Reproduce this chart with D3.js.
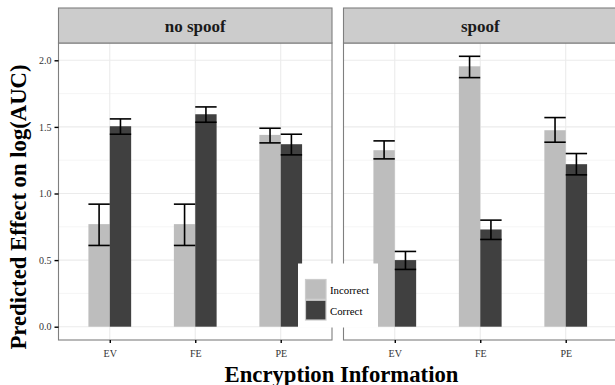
<!DOCTYPE html>
<html>
<head>
<meta charset="utf-8">
<script src="https://cdn.jsdelivr.net/npm/d3@7"></script>
<style>
  html, body { margin: 0; padding: 0; background: #fff; }
  svg { display: block; }
</style>
</head>
<body>
<svg id="chart" width="615" height="385"></svg>
<script>
// Facets, categories and series
const panels = ["no spoof", "spoof"];
const categories = ["EV", "FE", "PE"];
const series = ["Incorrect", "Correct"];

// Predicted effect, lower and upper bounds per panel: [EV, FE, PE]
const noSpoofIncorrect      = [0.77, 0.77, 1.44];
const noSpoofIncorrectLow   = [0.61, 0.61, 1.38];
const noSpoofIncorrectHigh  = [0.92, 0.92, 1.49];
const noSpoofCorrect        = [1.505, 1.595, 1.37];
const noSpoofCorrectLow     = [1.445, 1.535, 1.29];
const noSpoofCorrectHigh    = [1.56, 1.65, 1.445];

const spoofIncorrect        = [1.325, 1.955, 1.475];
const spoofIncorrectLow     = [1.26, 1.87, 1.385];
const spoofIncorrectHigh    = [1.395, 2.03, 1.57];
const spoofCorrect          = [0.50, 0.73, 1.22];
const spoofCorrectLow       = [0.43, 0.655, 1.14];
const spoofCorrectHigh      = [0.565, 0.80, 1.30];

const yTicks = [0.0, 0.5, 1.0, 1.5, 2.0];
const yMinor = [0.25, 0.75, 1.25, 1.75];

const colors = { "Incorrect": "#bdbdbd", "Correct": "#404040" };

// Build rows for each facet
function rows(vals, lo, hi, s) {
  return categories.map((c, i) => ({ cat: c, series: s, value: vals[i], lo: lo[i], hi: hi[i] }));
}
const facetData = {
  "no spoof": rows(noSpoofIncorrect, noSpoofIncorrectLow, noSpoofIncorrectHigh, "Incorrect")
    .concat(rows(noSpoofCorrect, noSpoofCorrectLow, noSpoofCorrectHigh, "Correct")),
  "spoof": rows(spoofIncorrect, spoofIncorrectLow, spoofIncorrectHigh, "Incorrect")
    .concat(rows(spoofCorrect, spoofCorrectLow, spoofCorrectHigh, "Correct"))
};

const svg = d3.select("#chart");
const serif = "'Liberation Serif', 'DejaVu Serif', serif";

// Layout
const stripTop = 8, stripBottom = 43, panelBottom = 340;
const panelX = [[58.5, 332], [343.5, 617]];

const y = d3.scaleLinear().domain([0, 2]).range([326.7, 60.3]);

panels.forEach((p, pi) => {
  const [x0, x1] = panelX[pi];
  const x = d3.scalePoint().domain(categories).range([x0, x1]).padding(0.6);
  const step = x.step();
  const dodge = d3.scaleBand().domain(series).range([-0.25 * step, 0.25 * step]).padding(0);
  const bw = dodge.bandwidth();

  const g = svg.append("g");

  // panel background
  g.append("rect").attr("x", x0).attr("y", stripBottom)
    .attr("width", x1 - x0).attr("height", panelBottom - stripBottom)
    .attr("fill", "#fff");

  // minor grid
  g.selectAll(".ymin").data(yMinor).join("line")
    .attr("x1", x0).attr("x2", x1)
    .attr("y1", d => y(d)).attr("y2", d => y(d))
    .attr("stroke", "#f5f5f5").attr("stroke-width", 1);
  // major grid
  g.selectAll(".ymaj").data(yTicks).join("line")
    .attr("x1", x0).attr("x2", x1)
    .attr("y1", d => y(d)).attr("y2", d => y(d))
    .attr("stroke", "#ebebeb").attr("stroke-width", 1.1);
  g.selectAll(".xmaj").data(categories).join("line")
    .attr("x1", d => x(d)).attr("x2", d => x(d))
    .attr("y1", stripBottom).attr("y2", panelBottom)
    .attr("stroke", "#ebebeb").attr("stroke-width", 1.1);

  const data = facetData[p];

  // bars
  g.selectAll(".bar").data(data).join("rect")
    .attr("x", d => x(d.cat) + dodge(d.series))
    .attr("width", bw)
    .attr("y", d => y(d.value))
    .attr("height", d => y(0) - y(d.value))
    .attr("fill", d => colors[d.series]);

  // error bars
  const eb = g.selectAll(".eb").data(data).join("g")
    .attr("stroke", "#000").attr("stroke-width", 1.6).attr("fill", "none");
  eb.append("line")
    .attr("x1", d => x(d.cat) + dodge(d.series) + bw / 2)
    .attr("x2", d => x(d.cat) + dodge(d.series) + bw / 2)
    .attr("y1", d => y(d.lo)).attr("y2", d => y(d.hi));
  eb.append("line")
    .attr("x1", d => x(d.cat) + dodge(d.series))
    .attr("x2", d => x(d.cat) + dodge(d.series) + bw)
    .attr("y1", d => y(d.lo)).attr("y2", d => y(d.lo));
  eb.append("line")
    .attr("x1", d => x(d.cat) + dodge(d.series))
    .attr("x2", d => x(d.cat) + dodge(d.series) + bw)
    .attr("y1", d => y(d.hi)).attr("y2", d => y(d.hi));

  // panel border
  g.append("rect").attr("x", x0).attr("y", stripBottom)
    .attr("width", x1 - x0).attr("height", panelBottom - stripBottom)
    .attr("fill", "none").attr("stroke", "#7f7f7f").attr("stroke-width", 1.1);

  // strip
  g.append("rect").attr("x", x0).attr("y", stripTop)
    .attr("width", x1 - x0).attr("height", stripBottom - stripTop)
    .attr("fill", "#cccccc").attr("stroke", "#7f7f7f").attr("stroke-width", 1.1);
  g.append("text").attr("x", (x0 + x1) / 2).attr("y", 32)
    .attr("text-anchor", "middle").attr("font-family", serif)
    .attr("font-weight", "bold").attr("font-size", 17).attr("fill", "#1a1a1a")
    .text(p);

  // x axis
  const xAxis = d3.axisBottom(x).tickSize(3).tickPadding(7);
  const xa = svg.append("g").attr("transform", `translate(0,${panelBottom})`).call(xAxis);
  xa.attr("font-family", serif).attr("font-size", 10);
  xa.select(".domain").remove();
  xa.selectAll(".tick line").attr("stroke", "#000").attr("stroke-width", 1.4);
  xa.selectAll(".tick text").attr("fill", "#333");
});

// y axis on the left panel
const yAxis = d3.axisLeft(y).tickValues(yTicks).tickFormat(d3.format(".1f")).tickSize(4).tickPadding(3);
const ya = svg.append("g").attr("transform", `translate(${panelX[0][0]},0)`).call(yAxis);
ya.attr("font-family", serif).attr("font-size", 10);
ya.select(".domain").remove();
ya.selectAll(".tick line").attr("stroke", "#000").attr("stroke-width", 1.4);
ya.selectAll(".tick text").attr("fill", "#333");

// axis titles
svg.append("text")
  .attr("x", 341.5).attr("y", 381.5)
  .attr("text-anchor", "middle").attr("font-family", serif)
  .attr("font-weight", "bold").attr("font-size", 22.7).attr("fill", "#000")
  .text("Encryption Information");

svg.append("text")
  .attr("transform", "translate(25.5,207) rotate(-90)")
  .attr("text-anchor", "middle").attr("font-family", serif)
  .attr("font-weight", "bold").attr("font-size", 22.7).attr("fill", "#000")
  .text("Predicted Effect on log(AUC)");

// legend
const leg = svg.append("g");
leg.append("rect").attr("x", 298).attr("y", 263.5).attr("width", 80).attr("height", 64)
  .attr("fill", "#fff");
const keyY = d3.scaleBand().domain(series).range([279, 320.5]);
series.forEach(s => {
  leg.append("rect").attr("x", 305.5).attr("y", keyY(s) + 0.5)
    .attr("width", 20.5).attr("height", keyY.bandwidth() - 1)
    .attr("fill", colors[s]).attr("stroke", "#cccccc").attr("stroke-width", 1.2);
  leg.append("text").attr("x", 330).attr("y", keyY(s) + keyY.bandwidth() / 2 + 5)
    .attr("font-family", serif).attr("font-size", 10.8).attr("fill", "#000")
    .text(s);
});
</script>
</body>
</html>
